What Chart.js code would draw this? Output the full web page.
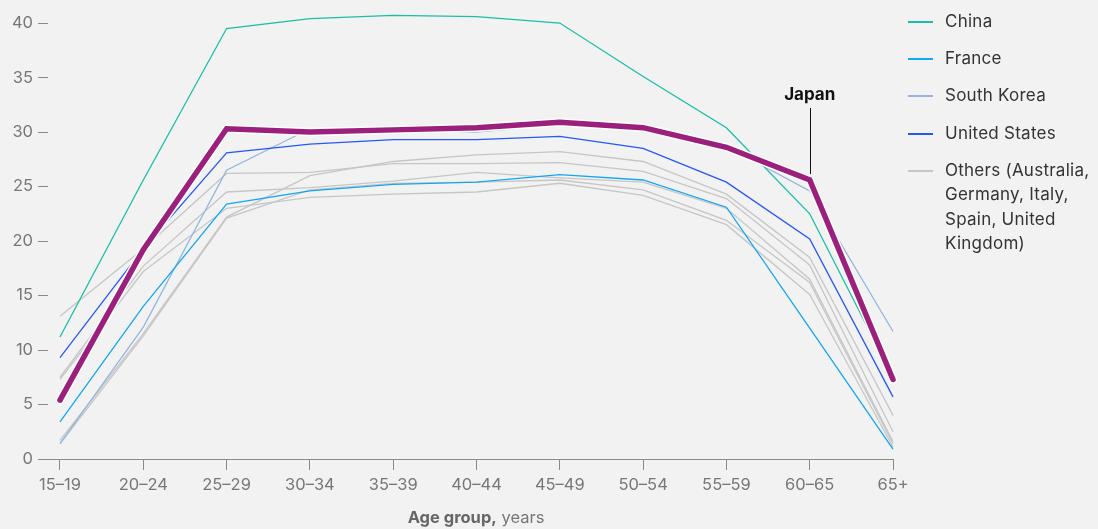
<!DOCTYPE html>
<html>
<head>
<meta charset="utf-8">
<script src="https://cdn.jsdelivr.net/npm/chart.js@4.4.1/dist/chart.umd.min.js"></script>
<style>
  body { margin: 0; background: #f2f2f2; font-family: Inter, "Liberation Sans", sans-serif; }
  #wrap { position: relative; width: 1098px; height: 529px; }
  #legend { position: absolute; left: 908px; top: 9px; width: 188px; color: #333; font-size: 17px; letter-spacing: 0.25px; line-height: 24.5px; }
  #legend .item { position: relative; padding-left: 37px; margin-bottom: 12.7px; }
  #legend .swatch { position: absolute; left: 0; top: 12px; width: 25px; height: 2px; }
  #xtitle { position: absolute; left: 0; width: 952px; top: 507px; text-align: center; font-size: 16.5px; color: #777; }
  #xtitle b { color: #666; }
</style>
</head>
<body>
<div id="wrap">
  <canvas id="myChart" width="1098" height="529"></canvas>
  <div id="legend"></div>
  <div id="xtitle"><b>Age group,</b> years</div>
</div>
<script>
var ageGroups = ['15–19', '20–24', '25–29', '30–34', '35–39', '40–44', '45–49', '50–54', '55–59', '60–65', '65+'];
var yTicks = [0, 5, 10, 15, 20, 25, 30, 35, 40];

var japan        = [5.4, 19.2, 30.3, 30.0, 30.2, 30.4, 30.9, 30.4, 28.6, 25.6, 7.3];
var china        = [11.2, 25.6, 39.5, 40.4, 40.7, 40.6, 40.0, 35.1, 30.4, 22.5, 7.5];
var france       = [3.4, 14.0, 23.4, 24.6, 25.2, 25.4, 26.1, 25.6, 23.1, 12.0, 0.9];
var southKorea   = [1.4, 12.1, 26.5, 30.3, 30.2, 30.0, 30.7, 30.2, 28.7, 24.6, 11.7];
var unitedStates = [9.3, 19.3, 28.1, 28.9, 29.3, 29.3, 29.6, 28.5, 25.4, 20.2, 5.7];

var others1 = [13.1, 19.3, 26.2, 26.3, 27.1, 27.1, 27.2, 26.4, 23.9, 17.8, 2.5];
var others2 = [1.7, 11.5, 22.2, 26.0, 27.3, 27.9, 28.2, 27.3, 24.3, 18.5, 4.0];
var others3 = [7.5, 17.7, 24.5, 24.9, 25.5, 26.3, 25.8, 25.4, 23.0, 16.5, 1.6];
var others4 = [7.3, 17.2, 23.0, 24.0, 24.3, 24.5, 25.3, 24.2, 21.5, 15.1, 1.1];
var others5 = [1.4, 11.3, 22.1, 24.7, 25.3, 25.4, 25.6, 24.7, 21.9, 16.2, 1.4];

var JAPAN = '#9b1f7c', CHINA = '#1abfa4', FRANCE = '#14a6f2', KOREA = '#94b6de', US = '#2757f7', GREY = '#c6c6c6';

function pts(arr) {
  return arr.map(function (v, i) { return { x: i, y: v }; });
}

function line(label, arr, color, width, order) {
  return { label: label, data: pts(arr), borderColor: color, borderWidth: width, order: order,
    pointRadius: 0, tension: 0, fill: false, clip: false };
}

var datasets = [
  line('Japan', japan, JAPAN, 5.5, 0),
  line('halo', japan, '#ffffff', 8.5, 1),
  line('China', china, CHINA, 1.3, 2),
  line('United States', unitedStates, US, 1.3, 3),
  line('France', france, FRANCE, 1.3, 4),
  line('South Korea', southKorea, KOREA, 1.3, 5),
  line('o1', others1, GREY, 1.3, 6),
  line('o2', others2, GREY, 1.3, 7),
  line('o3', others3, GREY, 1.3, 8),
  line('o4', others4, GREY, 1.3, 9),
  line('o5', others5, GREY, 1.3, 10)
];
datasets[0].borderCapStyle = 'round';
datasets[1].borderCapStyle = 'round';

// baseline that runs a bit left of the first category, plus the Japan callout
var extras = {
  id: 'extras',
  beforeDatasetsDraw: function (chart) {
    var c = chart.ctx, a = chart.chartArea;
    c.save();
    c.strokeStyle = '#8a8a8a';
    c.lineWidth = 1;
    c.beginPath();
    c.moveTo(a.left - 9, Math.round(a.bottom) + 0.5);
    c.lineTo(a.right, Math.round(a.bottom) + 0.5);
    c.stroke();
    c.restore();
  },
  afterDatasetsDraw: function (chart) {
    var c = chart.ctx, xs = chart.scales.x, ys = chart.scales.y;
    var x = xs.getPixelForValue(9), y = ys.getPixelForValue(japan[9]);
    c.save();
    c.strokeStyle = '#111';
    c.lineWidth = 1;
    c.beginPath();
    c.moveTo(Math.round(x) + 0.5, y - 6);
    c.lineTo(Math.round(x) + 0.5, y - 72);
    c.stroke();
    c.fillStyle = '#111';
    c.font = 'bold 17px Inter, "Liberation Sans", sans-serif';
    c.textAlign = 'center';
    c.textBaseline = 'middle';
    c.fillText('Japan', x, y - 85);
    c.restore();
  }
};

var ctx = document.getElementById('myChart');
var myChart = new Chart(ctx, {
  type: 'line',
  data: { datasets: datasets },
  plugins: [extras],
  options: {
    responsive: false,
    animation: false,
    layout: { padding: { left: 0, right: 205, top: 0, bottom: 0 } },
    plugins: { legend: { display: false }, tooltip: { enabled: false } },
    scales: {
      x: {
        type: 'linear', min: -0.144, max: 10,
        afterBuildTicks: function (s) { s.ticks = ageGroups.map(function (g, i) { return { value: i }; }); },
        afterFit: function (s) { s.height = 70; },
        border: { display: false },
        grid: { drawOnChartArea: false, drawTicks: true, tickLength: 11, color: '#8a8a8a' },
        ticks: {
          padding: 5, color: '#777', maxRotation: 0, autoSkip: false,
          font: { family: 'Inter, "Liberation Sans", sans-serif', size: 16.5 },
          callback: function (v) { return ageGroups[v]; }
        }
      },
      y: {
        min: 0, max: 40.75,
        afterBuildTicks: function (s) { s.ticks = yTicks.map(function (v) { return { value: v }; }); },
        afterFit: function (s) { s.width = 48; },
        border: { display: false },
        grid: { drawOnChartArea: false, drawTicks: true, tickLength: 10, color: '#8a8a8a' },
        ticks: {
          padding: 5, color: '#777',
          font: { family: 'Inter, "Liberation Sans", sans-serif', size: 16.5 }
        }
      }
    }
  }
});

(function () {
  var legendItems = [
    ['China', CHINA], ['France', FRANCE], ['South Korea', KOREA], ['United States', US],
    ['Others (Australia, Germany, Italy, Spain, United Kingdom)', GREY]
  ];
  var box = document.getElementById('legend');
  legendItems.forEach(function (it) {
    var d = document.createElement('div');
    d.className = 'item';
    d.innerHTML = '<span class="swatch" style="background:' + it[1] + '"></span>' + it[0];
    box.appendChild(d);
  });
})();
</script>
</body>
</html>
